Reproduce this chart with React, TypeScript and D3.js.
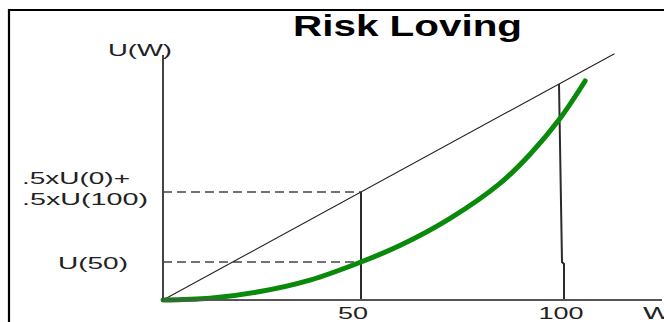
import React from "react";
import * as d3 from "d3";

// ---- data ----
const wealth = [0, 11.9, 24.5, 37.1, 50, 59.8, 72.5, 85.1, 92.7, 100, 106.6];
const utility = [0, 0.8, 3.9, 9.2, 17.6, 25.2, 37.8, 54.0, 67.5, 83.4, 101.4];
const chordW = [0, 114];
const chordU = [0, 114];
const xTicks = [50, 100];
const xTickLabels = ["50", "100"];
const uOfFifty = 17.6;
const expectedU = 50;
const title = "Risk Loving";

const W = 664;
const H = 322;
const FONT = "'Liberation Sans', Arial, sans-serif";

export default function App() {
  const x = d3.scaleLinear().domain([0, 100]).range([163, 559]);
  const y = d3.scaleLinear().domain([0, 100]).range([300, 84]);

  const curvePts: [number, number][] = wealth.map((w, i) => [x(w), y(utility[i])]);
  const curve = d3.line().curve(d3.curveCatmullRom.alpha(0.5))(curvePts) || "";
  const chord = d3.line()(chordW.map((w, i) => [x(w), y(chordU[i])] as [number, number])) || "";

  const x0 = x(0);
  const y0 = y(0);
  const dark = "#2b2b2b";

  return (
    <svg
      width={W}
      height={H}
      style={{ position: "fixed", left: 0, top: 0, display: "block", background: "#fff" }}
    >
      <rect x={0} y={0} width={W} height={H} fill="#fff" />
      {/* frame */}
      <path d={`M9,${H + 5} L9,10 L${W + 5},10`} fill="none" stroke="#000" strokeWidth={2.2} />

      {/* title */}
      <text x={293} y={36} fontFamily={FONT} fontWeight="bold" fontSize={29} fill="#000"
        textLength={229} lengthAdjust="spacingAndGlyphs">{title}</text>

      {/* dashed guide lines */}
      <line x1={x0} x2={x(50)} y1={y(expectedU)} y2={y(expectedU)} stroke="#444" strokeWidth={1.3} strokeDasharray="9,5" />
      <line x1={x0} x2={x(50)} y1={y(uOfFifty)} y2={y(uOfFifty)} stroke="#444" strokeWidth={1.3} strokeDasharray="9,5" />

      {/* chord */}
      <path d={chord} fill="none" stroke="#222" strokeWidth={1.1} />

      {/* verticals */}
      <line x1={x(50)} x2={x(50)} y1={y(expectedU)} y2={y0} stroke={dark} strokeWidth={2} />
      <path
        d={`M${x(100)},${y(100)} L${x(100) + 3},${y(uOfFifty)} L${x(100) + 5},${y(uOfFifty) + 2} L${x(100) + 5},${y0}`}
        fill="none" stroke={dark} strokeWidth={2} />

      {/* green utility curve */}
      <path d={curve} fill="none" stroke="#0a8a0a" strokeWidth={5} strokeLinecap="round" />

      {/* axes */}
      <line x1={x0} x2={x0} y1={55} y2={y0 + 1} stroke="#444" strokeWidth={2} />
      <line x1={x0} x2={662} y1={y0} y2={y0} stroke="#555" strokeWidth={2} />

      {/* axis labels */}
      <text x={108} y={56} fontFamily={FONT} fontSize={16} fill="#222" textLength={64} lengthAdjust="spacingAndGlyphs">U(W)</text>
      <text x={643} y={319} fontFamily={FONT} fontSize={16} fill="#222" textLength={28} lengthAdjust="spacingAndGlyphs">W</text>

      {/* tick labels */}
      {xTicks.map((t, i) => (
        <text key={t} x={x(t) + (i === 0 ? -8 : 2)} y={319} textAnchor="middle" fontFamily={FONT} fontSize={16} fill="#222"
          textLength={xTickLabels[i].length * 15} lengthAdjust="spacingAndGlyphs">{xTickLabels[i]}</text>
      ))}

      {/* y labels */}
      <text x={22} y={184} fontFamily={FONT} fontSize={16} fill="#222" textLength={108} lengthAdjust="spacingAndGlyphs">.5xU(0)+</text>
      <text x={22} y={205} fontFamily={FONT} fontSize={16} fill="#222" textLength={126} lengthAdjust="spacingAndGlyphs">.5xU(100)</text>
      <text x={58} y={269} fontFamily={FONT} fontSize={16} fill="#222" textLength={70} lengthAdjust="spacingAndGlyphs">U(50)</text>
    </svg>
  );
}
